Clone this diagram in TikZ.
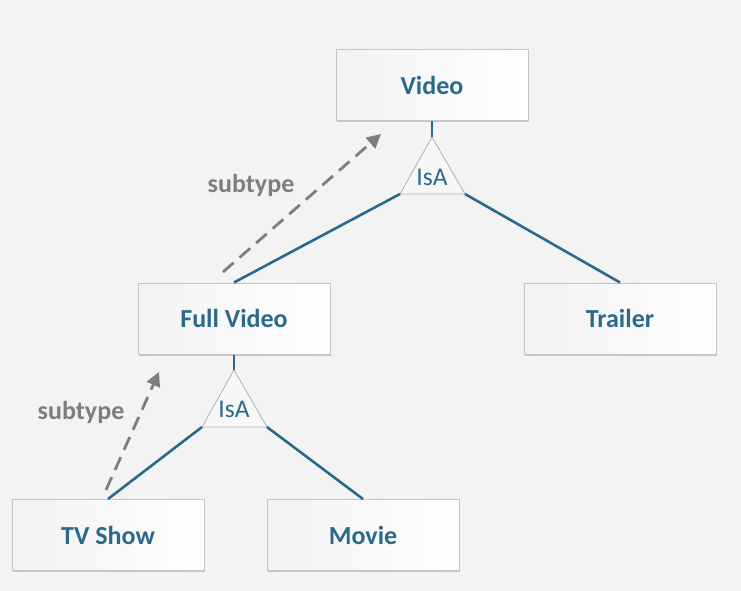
\documentclass[tikz,border=0pt]{standalone}
\usepackage{fontspec}
\setmainfont{Carlito}
\usetikzlibrary{shadows,arrows.meta}
\definecolor{bg}{HTML}{F3F3F3}
\definecolor{ink}{HTML}{2B6A8C}
\definecolor{boxline}{HTML}{C4C4C4}
\definecolor{subgrey}{HTML}{7E7E7E}
\tikzset{
  entity/.style={draw=boxline, line width=1pt, left color=black!5, right color=white,
    minimum width=192pt, minimum height=71pt, inner sep=0pt,
    font=\fontsize{26}{29}\selectfont\bfseries, text=ink,
    drop shadow={shadow xshift=1.2pt, shadow yshift=-1.5pt, fill=black!22, opacity=1}},
  tri/.style={draw=black!30, line width=0.8pt, fill=black!3},
  isa/.style={font=\fontsize{25.5}{28}\selectfont, text=ink, inner sep=0pt},
  link/.style={draw=ink, line width=2.6pt},
  subarrow/.style={draw=subgrey, line width=2.8pt, dash pattern=on 14pt off 8pt,
    -{Triangle[length=14pt,width=14pt]}},
  sublabel/.style={font=\fontsize{26}{28}\selectfont\bfseries, text=subgrey, inner sep=0pt}
}
\begin{document}
\begin{tikzpicture}[x=1pt,y=-1pt]
\fill[bg] (0,0) rectangle (741,591);
\useasboundingbox (0,0) rectangle (741,591);

\node[entity] (video) at (432,85.5) {Video};
\node[entity] (full) at (234,318.5) {Full Video};
\node[entity] (trailer) at (620,318.5) {Trailer};
\node[entity] (tv) at (108,535) {TV Show};
\node[entity] (movie) at (363,535) {Movie};

% upper IsA
\coordinate (t1a) at (432,137);
\coordinate (t1l) at (400,194);
\coordinate (t1r) at (465,194);
\draw[tri] (t1a) -- (t1l) -- (t1r) -- cycle;
\node[isa] (isa1) at (432,177) {IsA};

% lower IsA
\coordinate (t2a) at (234,370);
\coordinate (t2l) at (202,427);
\coordinate (t2r) at (267,427);
\draw[tri] (t2a) -- (t2l) -- (t2r) -- cycle;
\node[isa] (isa2) at (234,409) {IsA};

\draw[link] (video.south) -- (t1a);
\draw[link] (t1l) -- (full.north);
\draw[link] (t1r) -- (trailer.north);
\draw[link] (full.south) -- (t2a);
\draw[link] (t2l) -- (tv.north);
\draw[link] (t2r) -- (movie.north);

% subtype arrows
\coordinate (s1a) at (223,272);
\coordinate (s1b) at (381,134);
\draw[subarrow] (s1a) -- (s1b);
\node[sublabel] (sub1) at (251,185) {subtype};

\coordinate (s2a) at (106,490);
\coordinate (s2b) at (159,372);
\draw[subarrow] (s2a) -- (s2b);
\node[sublabel] (sub2) at (81,412) {subtype};
\end{tikzpicture}
\end{document}
